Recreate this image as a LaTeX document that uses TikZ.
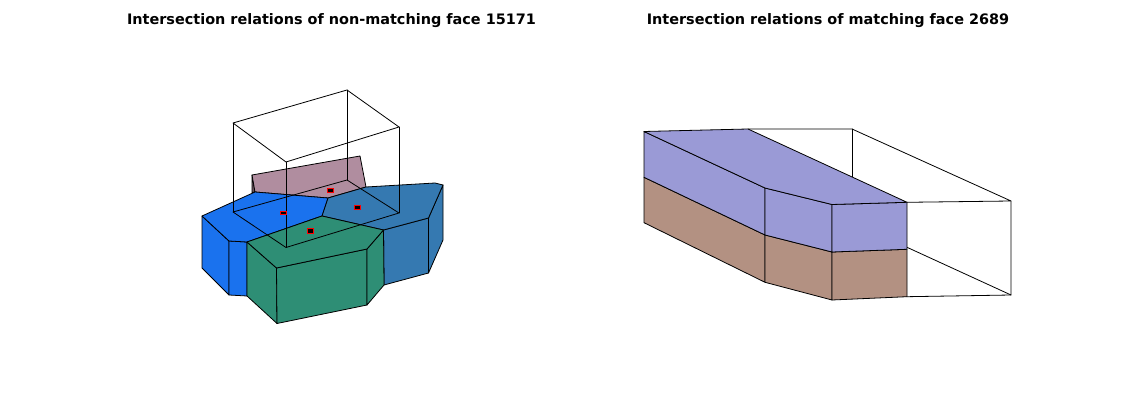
\documentclass[tikz,border=0pt]{standalone}
\usepackage{fontspec}
\setmainfont{DejaVu Sans}
\definecolor{brightblue}{HTML}{1A72EE}
\definecolor{steelb}{HTML}{3579B1}
\definecolor{seagreen}{HTML}{2E8E75}
\definecolor{mauve}{HTML}{B08D9F}
\definecolor{lavender}{HTML}{9A9AD6}
\definecolor{clay}{HTML}{B39182}
\tikzset{
  face/.style={draw=black,line width=0.6pt,line join=round},
  wire/.style={draw=black,line width=0.6pt,line cap=round,line join=round},
  plotTitle/.style={font=\bfseries\fontsize{10.82}{13}\selectfont,anchor=base,inner sep=0pt},
  marker/.style={draw=red,fill=black,line width=0.6pt}
}
\begin{document}
\begin{tikzpicture}[x=0.75pt,y=-0.75pt]
\useasboundingbox (0,0) rectangle (1130,420);
\fill[white] (0,0) rectangle (1130,420);
\node[plotTitle] (titleL) at (331.5,24.5) {Intersection relations of non-matching face 15171};
\node[plotTitle] (titleR) at (828,24.5) {Intersection relations of matching face 2689};

% left: mauve face
\filldraw[face,fill=mauve!60!black] (252,175) -- (252,192.5) -- (255,192) -- cycle;
\filldraw[face,fill=mauve] (252,175) -- (360,156) -- (366,187) -- (328,198) -- (255,192) -- cycle;

% left: bright blue cell
\filldraw[face,fill=brightblue] (202,216) -- (229,241) -- (229,295) -- (202,268) -- cycle;
\filldraw[face,fill=brightblue] (229,241) -- (247,242) -- (247,296) -- (229,295) -- cycle;
\filldraw[face,fill=brightblue] (202,216) -- (255,192) -- (328,198) -- (322,216) -- (247,242) -- (229,241) -- cycle;

% left: steel blue cell
\filldraw[face,fill=steelb] (383.5,230) -- (428.5,218) -- (428.5,273) -- (384,285) -- cycle;
\filldraw[face,fill=steelb] (428.5,218) -- (443,185) -- (443,240) -- (428.5,273) -- cycle;
\filldraw[face,fill=steelb] (328,198) -- (366,187) -- (435,183) -- (443,185) -- (428.5,218) -- (383.5,230) -- (322,216) -- cycle;

% left: green cell
\filldraw[face,fill=seagreen] (247,242) -- (276.5,268) -- (277,323.5) -- (247,296) -- cycle;
\filldraw[face,fill=seagreen] (276.5,268) -- (367,249) -- (367,305) -- (277,323.5) -- cycle;
\filldraw[face,fill=seagreen] (367,249) -- (383.5,230) -- (384,285) -- (367,305) -- cycle;
\filldraw[face,fill=seagreen] (247,242) -- (322,216) -- (383.5,230) -- (367,249) -- (276.5,268) -- cycle;

% left: box
\draw[wire] (233,123) -- (347,90) -- (399,127) -- (286,162) -- cycle;
\draw[wire] (233,212) -- (347,180) -- (399,213) -- (286,247.5) -- cycle;
\draw[wire] (233,123) -- (233,212);
\draw[wire] (347,90) -- (347,180);
\draw[wire] (399,127) -- (399,213);
\draw[wire] (286,162) -- (286,247.5);

% left: intersection markers
\filldraw[marker] (327.5,188.2) rectangle (333.8,192);
\filldraw[marker] (354.5,205.5) rectangle (360.5,209.8);
\filldraw[marker] (280.2,211.4) rectangle (286.4,214.4);
\filldraw[marker] (307.6,228.4) rectangle (313.5,233);

% right: box
\draw[wire] (748,129) -- (852,129) -- (1011,201) -- (907,202.3);
\draw[wire] (852,129) -- (852,177);
\draw[wire] (1011,201) -- (1011,295) -- (907,296.7);
\draw[wire] (907,247.3) -- (1011,295);

% right: brown band
\filldraw[face,fill=clay] (644,177.3) -- (765,235) -- (765,282.3) -- (644,222.7) -- cycle;
\filldraw[face,fill=clay] (765,235) -- (832,252) -- (832,300) -- (765,282.3) -- cycle;
\filldraw[face,fill=clay] (832,252) -- (907,249.3) -- (907,296.7) -- (832,300) -- cycle;

% right: lavender band
\filldraw[face,fill=lavender] (644,131.5) -- (765,188) -- (765,235) -- (644,177.3) -- cycle;
\filldraw[face,fill=lavender] (765,188) -- (832,204.5) -- (832,252) -- (765,235) -- cycle;
\filldraw[face,fill=lavender] (832,204.5) -- (907,202.3) -- (907,249.3) -- (832,252) -- cycle;
\filldraw[face,fill=lavender] (644,131.5) -- (748,129) -- (907,202.3) -- (832,204.5) -- (765,188) -- cycle;
\end{tikzpicture}
\end{document}
